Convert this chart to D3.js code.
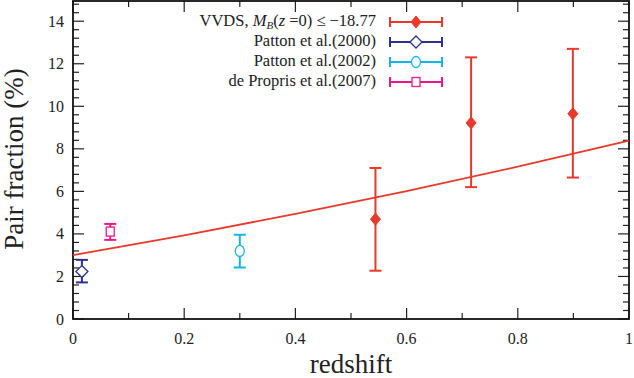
<!DOCTYPE html>
<html>
<head>
<meta charset="utf-8">
<script src="https://cdn.jsdelivr.net/npm/d3@7"></script>
<style>
  body { margin: 0; background: #fff; }
  svg { display: block; }
  text { font-family: "Liberation Serif", "Times New Roman", serif; fill: #222; }
</style>
</head>
<body>
<svg id="chart" width="634" height="378"></svg>
<script>
// VVDS points: redshift, pair fraction, lower / upper error bound
var vvdsZ = [0.544, 0.716, 0.899];
var vvdsF = [4.69, 9.22, 9.65];
var vvdsLo = [2.27, 6.2, 6.65];
var vvdsHi = [7.1, 12.3, 12.7];

// low-z comparison points
var lowNames = ["Patton et al.(2000)", "Patton et al.(2002)", "de Propris et al.(2007)"];
var lowZ = [0.016, 0.30, 0.067];
var lowF = [2.23, 3.2, 4.11];
var lowLo = [1.72, 2.42, 3.72];
var lowHi = [2.78, 3.96, 4.47];
var lowShape = ["diamond", "circle", "square"];
var lowColor = ["#2b3192", "#19b4ec", "#e8198b"];

// fitted curve
var fitZ = [0, 0.2, 0.4, 0.6, 0.8, 1.0];
var fitF = [3.0, 3.93, 4.94, 6.01, 7.16, 8.39];

var xTicks = [0, 0.2, 0.4, 0.6, 0.8, 1];
var yTicks = [0, 2, 4, 6, 8, 10, 12, 14];

var red = "#e8392a";

var svg = d3.select("#chart");
var pLeft = 73, pRight = 629, pTop = 1, pBottom = 319;

var x = d3.scaleLinear().domain([0, 1]).range([pLeft, pRight]);
var y = d3.scaleLinear().domain([0, 14.95]).range([pBottom, pTop]);

// ticks (inside, on all four sides)
var g = svg.append("g");
var xMinor = d3.range(0, 1.0001, 0.1);
var yMinor = d3.range(0, 15.0001, 0.4);

xMinor.forEach(function(v, i) {
  var len = (i % 2 == 0) ? 11 : 6;
  g.append("line").attr("x1", x(v)).attr("x2", x(v)).attr("y1", pBottom).attr("y2", pBottom - len)
    .attr("stroke", "#222").attr("stroke-width", 1.2);
  g.append("line").attr("x1", x(v)).attr("x2", x(v)).attr("y1", pTop).attr("y2", pTop + len)
    .attr("stroke", "#222").attr("stroke-width", 1.2);
});
yMinor.forEach(function(v, i) {
  var len = (i % 5 == 0) ? 11 : 6;
  g.append("line").attr("y1", y(v)).attr("y2", y(v)).attr("x1", pLeft).attr("x2", pLeft + len)
    .attr("stroke", "#222").attr("stroke-width", 1.2);
  g.append("line").attr("y1", y(v)).attr("y2", y(v)).attr("x1", pRight).attr("x2", pRight - len)
    .attr("stroke", "#222").attr("stroke-width", 1.2);
});

// frame
svg.append("rect").attr("x", pLeft).attr("y", pTop).attr("width", pRight - pLeft).attr("height", pBottom - pTop)
  .attr("fill", "none").attr("stroke", "#111").attr("stroke-width", 1.8);

// tick labels
svg.selectAll(".xl").data(xTicks).enter().append("text")
  .attr("x", d => x(d)).attr("y", 344).attr("text-anchor", "middle")
  .style("font-size", "16px").text(d => d);
svg.selectAll(".yl").data(yTicks).enter().append("text")
  .attr("x", 64).attr("y", d => y(d) + 5.5).attr("text-anchor", "end")
  .style("font-size", "16px").text(d => d);

// axis titles
svg.append("text").attr("x", 351).attr("y", 373).attr("text-anchor", "middle")
  .style("font-size", "27px").text("redshift");
svg.append("text").attr("transform", "translate(23,159) rotate(-90)").attr("text-anchor", "middle")
  .style("font-size", "27px").text("Pair fraction (%)");

// fit line
var line = d3.line().x(d => x(d[0])).y(d => y(d[1])).curve(d3.curveMonotoneX);
svg.append("path").datum(d3.zip(fitZ, fitF)).attr("d", line)
  .attr("fill", "none").attr("stroke", red).attr("stroke-width", 1.8);

function marker(sel, shape, cx, cy, color) {
  if (shape == "filled") {
    sel.append("path").attr("d", `M${cx},${cy-6}L${cx+5},${cy}L${cx},${cy+6}L${cx-5},${cy}Z`)
      .attr("fill", color).attr("stroke", color);
  } else if (shape == "diamond") {
    sel.append("path").attr("d", `M${cx},${cy-6}L${cx+6},${cy}L${cx},${cy+6}L${cx-6},${cy}Z`)
      .attr("fill", "#fff").attr("stroke", color).attr("stroke-width", 1.3);
  } else if (shape == "circle") {
    sel.append("ellipse").attr("cx", cx).attr("cy", cy).attr("rx", 4.5).attr("ry", 5.5)
      .attr("fill", "#fff").attr("stroke", color).attr("stroke-width", 1.3);
  } else {
    sel.append("rect").attr("x", cx - 4).attr("y", cy - 4.5).attr("width", 8).attr("height", 9)
      .attr("fill", "#fff").attr("stroke", color).attr("stroke-width", 1.3);
  }
}

function errBar(cx, lo, hi, color) {
  svg.append("line").attr("x1", cx).attr("x2", cx).attr("y1", y(lo)).attr("y2", y(hi))
    .attr("stroke", color).attr("stroke-width", 2);
  [lo, hi].forEach(function(v) {
    svg.append("line").attr("x1", cx - 6).attr("x2", cx + 6).attr("y1", y(v)).attr("y2", y(v))
      .attr("stroke", color).attr("stroke-width", 2);
  });
}

vvdsZ.forEach(function(z, i) {
  errBar(x(z), vvdsLo[i], vvdsHi[i], red);
  marker(svg, "filled", x(z), y(vvdsF[i]), red);
});
lowZ.forEach(function(z, i) {
  errBar(x(z), lowLo[i], lowHi[i], lowColor[i]);
  marker(svg, lowShape[i], x(z), y(lowF[i]), lowColor[i]);
});

// legend
var leg = svg.append("g");
var rows = [
  { color: red, shape: "filled" },
  { color: lowColor[0], shape: lowShape[0] },
  { color: lowColor[1], shape: lowShape[1] },
  { color: lowColor[2], shape: lowShape[2] }
];
rows.forEach(function(r, i) {
  var ry = 22 + i * 20;
  leg.append("line").attr("x1", 390).attr("x2", 442).attr("y1", ry).attr("y2", ry)
    .attr("stroke", r.color).attr("stroke-width", 2);
  [390, 442].forEach(function(cx) {
    leg.append("line").attr("x1", cx).attr("x2", cx).attr("y1", ry - 5).attr("y2", ry + 5)
      .attr("stroke", r.color).attr("stroke-width", 2);
  });
  marker(leg, r.shape, 416, ry, r.color);
});
var t0 = leg.append("text").attr("x", 376).attr("y", 26).attr("text-anchor", "end").style("font-size", "16.5px");
t0.append("tspan").text("VVDS, ");
t0.append("tspan").style("font-style", "italic").text("M");
t0.append("tspan").style("font-style", "italic").style("font-size", "11px").attr("dy", 3).text("B");
t0.append("tspan").attr("dy", -3).text("(");
t0.append("tspan").style("font-style", "italic").text("z");
t0.append("tspan").text(" =0) \u2264 \u221218.77");
lowNames.forEach(function(n, i) {
  leg.append("text").attr("x", 376).attr("y", 46 + i * 20).attr("text-anchor", "end")
    .style("font-size", "16.5px").text(n);
});
</script>
</body>
</html>
